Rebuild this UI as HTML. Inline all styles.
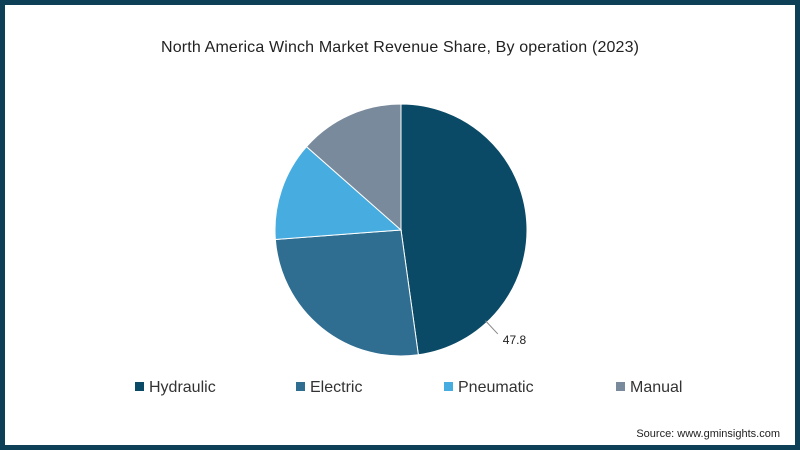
<!DOCTYPE html>
<html><head><meta charset="utf-8"><style>
body{margin:0;width:800px;height:450px;overflow:hidden;background:#fff;font-family:"Liberation Sans",sans-serif}
#frame{position:absolute;left:0;top:0;width:790px;height:440px;border:5px solid #0d3f57;background:#fff}
</style></head><body>
<div id="frame"></div>
<svg width="800" height="450" style="position:absolute;left:0;top:0">
<text x="400" y="52" text-anchor="middle" font-size="16" fill="#222" textLength="478">North America Winch Market Revenue Share, By operation (2023)</text>
<g id="pie"></g>
<g id="legend"></g>
<text x="780" y="437" text-anchor="end" font-size="11" fill="#222">Source: www.gminsights.com</text>
</svg>
<script>
const categories=["Hydraulic","Electric","Pneumatic","Manual"];
const values=[47.8,26.0,12.7,13.5];
const labels=["47.8",null,null,null];
const colors=["#0b4a66","#2f6d91","#47ade0","#7a8a9d"];
const ns="http://www.w3.org/2000/svg";
const cx=401,cy=230,r=126;
const total=values.reduce((a,b)=>a+b,0);
const pie=document.getElementById('pie');
function pt(a,rr){return [cx+rr*Math.sin(a),cy-rr*Math.cos(a)];}
let a0=0;
values.forEach((v,i)=>{
  const a1=a0+v/total*2*Math.PI;
  const p0=pt(a0,r),p1=pt(a1,r);
  const p=document.createElementNS(ns,'path');
  p.setAttribute('d',`M${cx},${cy}L${p0[0]},${p0[1]}A${r},${r} 0 ${a1-a0>Math.PI?1:0} 1 ${p1[0]},${p1[1]}Z`);
  p.setAttribute('fill',colors[i]);p.setAttribute('stroke','#fff');p.setAttribute('stroke-width','1');
  
  
  pie.appendChild(p);
  if(labels[i]){
    const am=(a0+a1)/2+0.89;
    const q0=pt(am,r-2),q1=pt(am,r+16);
    const l=document.createElementNS(ns,'line');
    l.setAttribute('x1',q0[0]);l.setAttribute('y1',q0[1]);l.setAttribute('x2',q1[0]);l.setAttribute('y2',q1[1]);
    l.setAttribute('stroke','#888');
    
    
    pie.appendChild(l);
    const t=document.createElementNS(ns,'text');
    t.setAttribute('x',q1[0]+5);t.setAttribute('y',q1[1]+10);t.setAttribute('font-size','12');t.setAttribute('fill','#222');
    t.textContent=labels[i];
    
    
    pie.appendChild(t);
  }
  a0=a1;
});
const sqX=[135,296,444,616];
const lg=document.getElementById('legend');
categories.forEach((c,i)=>{
  const g=document.createElementNS(ns,'g');
  
  
  const s=document.createElementNS(ns,'rect');
  s.setAttribute('x',sqX[i]);
  s.setAttribute('y',382);s.setAttribute('width',9);s.setAttribute('height',9);s.setAttribute('fill',colors[i]);
  g.appendChild(s);
  const t=document.createElementNS(ns,'text');
  t.setAttribute('x',sqX[i]+14);t.setAttribute('y',392);t.setAttribute('font-size','16');t.setAttribute('fill','#333');
  t.textContent=c;
  g.appendChild(t);
  lg.appendChild(g);
});
</script>
</body></html>
